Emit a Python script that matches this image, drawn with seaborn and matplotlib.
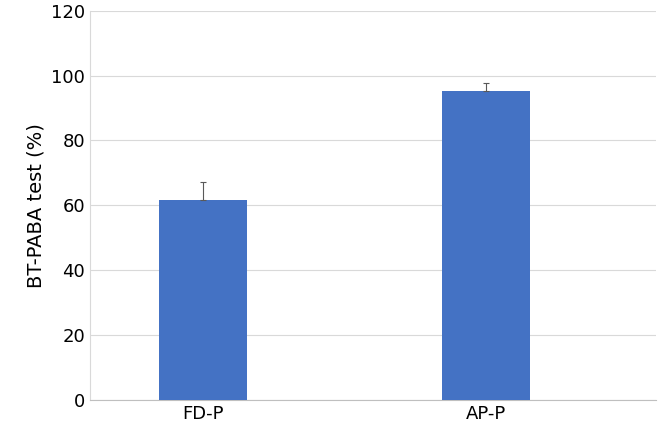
import matplotlib
matplotlib.use("Agg")
import matplotlib.pyplot as plt
import seaborn as sns
import pandas as pd

categories = ["FD-P", "AP-P"]
values = [61.5, 95.3]
errors = [5.8, 2.5]

df = pd.DataFrame({"group": categories, "value": values})

fig = plt.figure(figsize=(6.58, 4.30), dpi=100)
ax = fig.add_axes([0.137, 0.07, 0.86, 0.905])

sns.barplot(data=df, x="group", y="value", color="#4472C4", width=0.31,
            saturation=1, ax=ax, zorder=3)
ax.errorbar(range(len(categories)), values, yerr=[[0, 0], errors], fmt="none",
            ecolor="#595959", elinewidth=0.8, capsize=2.5, capthick=0.8, zorder=4)

ax.set_xlim(-0.4, 1.6)
ax.set_ylim(0, 120)
ax.set_yticks(range(0, 121, 20))
ax.yaxis.grid(True, color="#d9d9d9", linewidth=0.8, zorder=0)
ax.set_axisbelow(True)
ax.set_xlabel("")
ax.set_ylabel("BT-PABA test (%)", fontsize=14, color="#000000")
ax.tick_params(axis="both", labelsize=13, length=0, colors="#000000")
for s in ["top", "right"]:
    ax.spines[s].set_visible(False)
ax.spines["left"].set_color("#d9d9d9")
ax.spines["bottom"].set_color("#bfbfbf")

fig.savefig("out.png", dpi=100)
